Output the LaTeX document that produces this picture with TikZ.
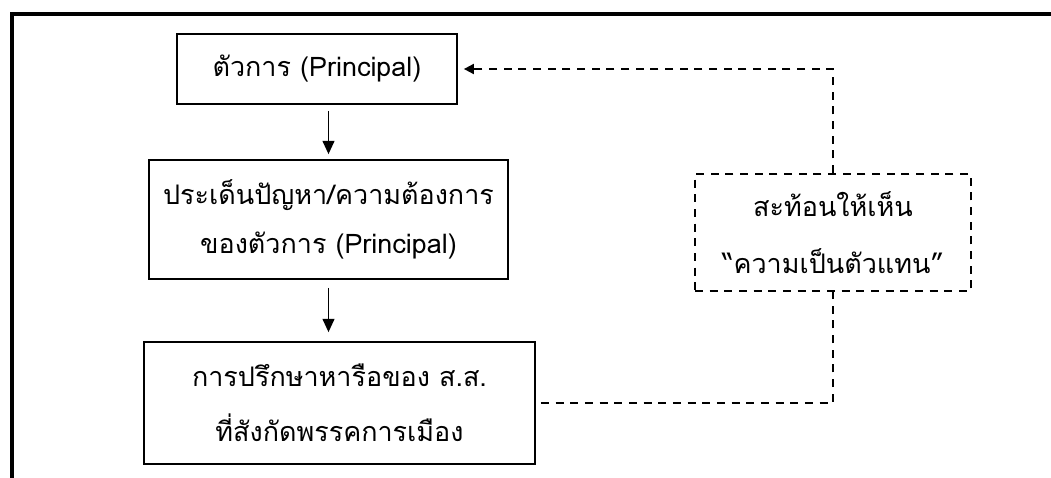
\documentclass[tikz,border=0pt]{standalone}
\usepackage{fontspec}
\newfontfamily\thaifont[Script=Thai]{Loma}
\usetikzlibrary{arrows.meta}
\begin{document}
\begin{tikzpicture}
[x=0.03cm, y=-0.03cm,
  boxdecorate/.style={shape=rectangle,draw,line width=1.5pt,align=center,
    font=\thaifont\fontsize{23}{42}\selectfont},%
  dashdecorate/.style={draw,line width=1.6pt,dash pattern=on 0.24cm off 0.2cm},%
  arrowdecorate/.style={-{Triangle[width=0.36cm,length=0.4cm]},line width=1.2pt}]
\useasboundingbox (0,0) rectangle (1051,478);
%% frame of the page
\draw[line width=3.4pt] (1051,14) -- (12,14) -- (12,478);
%% boxes
\node (principal) at (317,69) [boxdecorate,minimum width=8.4cm,minimum height=2.1cm]
  {ตัวการ (Principal)};
\node (issue) at (328.5,219.5) [boxdecorate,minimum width=10.77cm,minimum height=3.57cm]
  {ประเด็นปัญหา/ความต้องการ\\ของตัวการ (Principal)};
\node (consult) at (339.5,403) [boxdecorate,minimum width=11.73cm,minimum height=3.66cm]
  {การปรึกษาหารือของ ส.ส.\\[5pt]ที่สังกัดพรรคการเมือง};
\node (reflect) at (833,232.5) [boxdecorate,dashdecorate,minimum width=8.28cm,minimum height=3.51cm]
  {สะท้อนให้เห็น\\[7pt]“ความเป็นตัวแทน”};
%% arrows
\draw[arrowdecorate,shorten <=0.18cm,shorten >=0.15cm] (issue.north |- principal.south) -- (issue.north);
\draw[arrowdecorate,shorten <=0.24cm,shorten >=0.27cm] (issue.south) -- (issue.south |- consult.north);
%% feedback line
\draw[dashdecorate,shorten <=0.15cm] (consult.east) -| (reflect.south);
\draw[dashdecorate,-{Triangle[width=0.3cm,length=0.3cm]},shorten >=0.18cm] (reflect.north) |- (principal.east);
\end{tikzpicture}
\end{document}
